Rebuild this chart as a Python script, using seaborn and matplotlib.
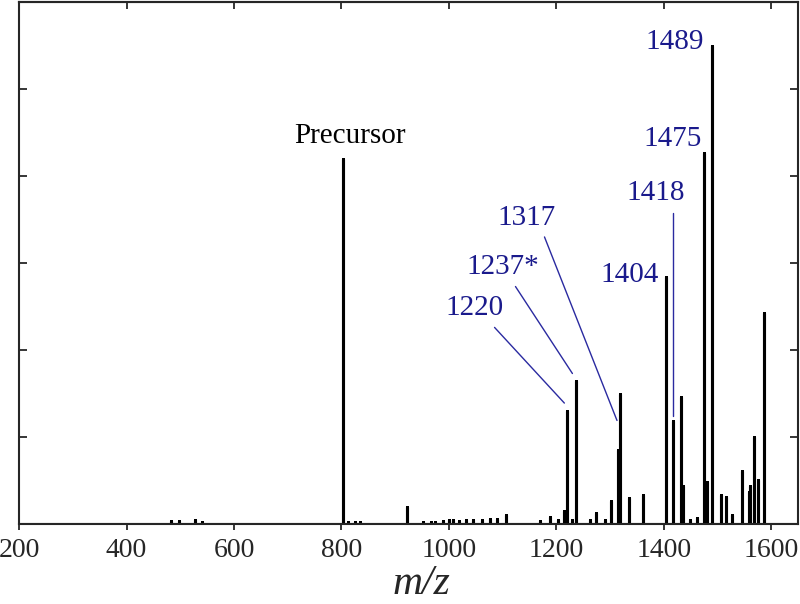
#!/usr/bin/env python3
import pandas as pd
import seaborn as sns
import matplotlib.pyplot as plt

# peak list (m/z, relative intensity in tick units)
peak_mz = [483, 498, 527, 541, 802, 812, 825, 835, 922, 952, 966, 975, 989,
           1001, 1007, 1018, 1031, 1045, 1062, 1076, 1090, 1106, 1169, 1188,
           1203, 1214, 1220, 1229, 1237, 1262, 1274, 1291, 1302, 1315, 1318,
           1336, 1361, 1404, 1418, 1432, 1435, 1448, 1462, 1475, 1480, 1489,
           1506, 1516, 1528, 1545, 1558, 1561, 1569, 1575, 1587]
peak_int = [0.03, 0.03, 0.04, 0.02, 4.20, 0.02, 0.02, 0.02, 0.20, 0.02, 0.02,
            0.02, 0.03, 0.05, 0.05, 0.03, 0.05, 0.05, 0.05, 0.06, 0.06, 0.10,
            0.03, 0.08, 0.04, 0.15, 1.30, 0.05, 1.64, 0.04, 0.13, 0.04, 0.26,
            0.85, 1.49, 0.30, 0.33, 2.84, 1.18, 1.46, 0.44, 0.05, 0.07, 4.27,
            0.48, 5.50, 0.33, 0.31, 0.10, 0.61, 0.37, 0.44, 1.00, 0.51, 2.42]
mz_range = [200, 1650]

# annotations: text, text position, leader line (start, end) or None
ann_text = ["Precursor", "1489", "1475", "1418", "1404", "1317", "1237*", "1220"]
ann_xy = [(815, 4.46), (1420, 5.54), (1416, 4.43), (1385, 3.80),
          (1336, 2.86), (1145, 3.52), (1100, 2.95), (1048, 2.48)]
ann_color = ["black"] + ["#1a1a8c"] * 7
leader_from = [None, None, None, (1418, 3.57), None, (1178, 3.30), (1124, 2.73), (1085, 2.26)]
leader_to = [None, None, None, (1418, 1.24), None, (1313, 1.19), (1230, 1.73), (1215, 1.39)]

xticks = [200, 400, 600, 800, 1000, 1200, 1400, 1600]


def main():
    sns.set_style("ticks")
    plt.rcParams["font.family"] = ["Liberation Serif", "DejaVu Serif"]

    # stick spectrum drawn as one continuous trace along the baseline
    xs, ys = [mz_range[0]], [0.0]
    for m, h in zip(peak_mz, peak_int):
        xs += [m, m, m]
        ys += [0.0, h, 0.0]
    xs.append(mz_range[1])
    ys.append(0.0)
    df = pd.DataFrame({"mz": xs, "intensity": ys})

    fig = plt.figure(figsize=(8, 6.04), dpi=100)
    ax = fig.add_axes([0.024, 0.1325, 0.9735, 0.864])
    sns.lineplot(data=df, x="mz", y="intensity", sort=False, estimator=None,
                 color="black", lw=2.2, ax=ax)

    for txt, (tx, ty), c, a, b in zip(ann_text, ann_xy, ann_color, leader_from, leader_to):
        ax.text(tx, ty, txt, color=c, fontsize=21, ha="center", va="center")
        if a is not None:
            ax.plot([a[0], b[0]], [a[1], b[1]], color="#2a2aa0", lw=1.0)

    ax.set_xlim(*mz_range)
    ax.set_ylim(0, 6)
    ax.set_xticks(xticks)
    ax.set_yticks(range(0, 7))
    ax.set_yticklabels([])
    ax.tick_params(axis="y", direction="in", length=6, width=1.3, left=True, right=True)
    ax.tick_params(axis="x", direction="out", length=4, width=1.3,
                   labelsize=20, pad=6)
    top = ax.secondary_xaxis("top")
    top.set_xticks(xticks)
    top.tick_params(direction="in", length=5, width=1.3, labeltop=False)
    for sp in ax.spines.values():
        sp.set_linewidth(1.5)
        sp.set_visible(True)
    top.spines["top"].set_linewidth(1.5)
    ax.set_xlabel("m/z", fontsize=30, style="italic", labelpad=0)
    ax.xaxis.set_label_coords(0.517, -0.078)
    ax.set_ylabel("")
    fig.savefig("out.png", dpi=100)


if __name__ == "__main__":
    main()
